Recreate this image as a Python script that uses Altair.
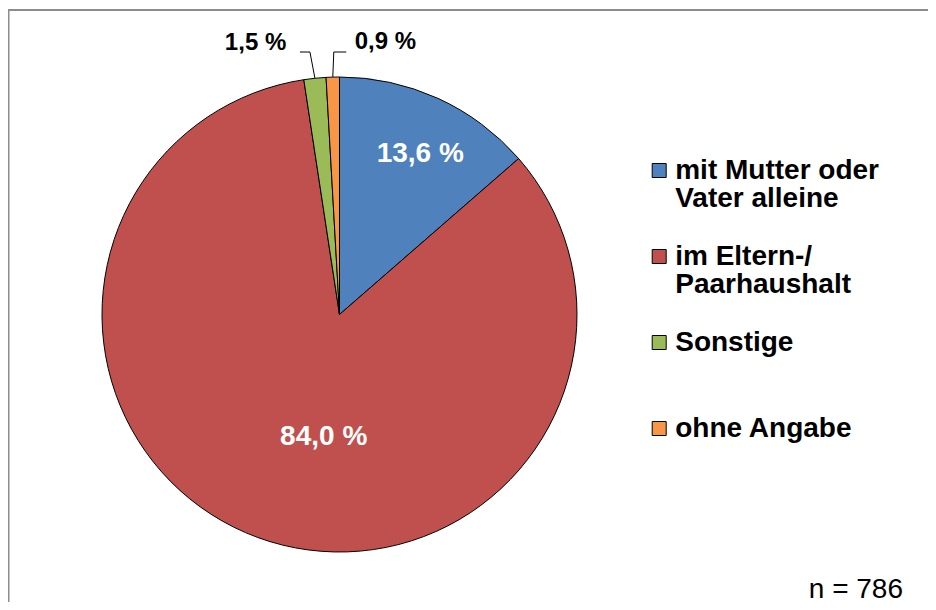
import math
import altair as alt
import pandas as pd

# ---- data ----
categories = ["mit Mutter oder|Vater alleine", "im Eltern-/|Paarhaushalt", "Sonstige", "ohne Angabe"]
values = [13.6, 84.0, 1.5, 0.9]
labels = ["13,6 %", "84,0 %", "1,5 %", "0,9 %"]
colors = ["#4F81BD", "#C0504D", "#9BBB59", "#F79646"]
n_label = ["n = 786"]

FONT = "Liberation Sans"
W = H = 500
R = 237.5

df = pd.DataFrame({"cat": categories, "value": values, "label": labels,
                   "idx": list(range(len(categories)))})

theta_scale = alt.Scale(domain=[0, 100])

legend = alt.Legend(
    title=None, orient="none", legendX=555.7, legendY=92, padding=0,
    symbolType="square", symbolSize=196,
    symbolStrokeColor="black", symbolStrokeWidth=1, symbolOpacity=1,
    labelFont=FONT, labelFontWeight="bold", labelFontSize=28, labelColor="black",
    labelLimit=400, labelOffset=2,
    labelExpr="indexof(datum.label, '|') >= 0 ? split(datum.label, '|') : [datum.label, '']",
    rowPadding=30, gridAlign="all",
)

base = alt.Chart(df)

pie = base.mark_arc(outerRadius=R, stroke="black", strokeWidth=1).encode(
    theta=alt.Theta("value:Q", stack=True, scale=theta_scale),
    color=alt.Color("cat:N", scale=alt.Scale(domain=categories, range=colors), legend=legend),
    order=alt.Order("idx:Q"),
)

mid = base.transform_window(
    cum="sum(value)", sort=[alt.SortField("idx")], frame=[None, 0]
).transform_calculate(mid="datum.cum - datum.value / 2")


def lab(i, radius, dx, dy, size, col):
    return mid.transform_filter(alt.datum.idx == i).mark_text(
        radius=radius, dx=dx, dy=dy, font=FONT, fontWeight="bold",
        fontSize=size, color=col, align="center", baseline="middle",
    ).encode(theta=alt.Theta("mid:Q", scale=theta_scale, stack=False), text="label:N")


texts = [
    lab(0, 178, 7, 1.5, 28, "white"),
    lab(1, 130, 29, 0, 28, "white"),
    lab(2, 270, -56, -3, 24, "black"),
    lab(3, 270, 53.5, -3, 24, "black"),
]

# leader lines for the two small slices, anchored at slice mid-angle on the rim
cum = 0.0
mids = []
for v in values:
    mids.append(cum + v / 2)
    cum += v
ELY = -12.5
rows = []
for i, (elbow_dx, end_dx) in {2: (-5, -15), 3: (1, 13.5)}.items():
    a = mids[i] / 100 * 2 * math.pi
    ex, ey = W / 2 + R * math.sin(a), H / 2 - R * math.cos(a)
    rows += [
        {"cat": categories[i], "k": 0, "px": ex + end_dx, "py": ELY},
        {"cat": categories[i], "k": 1, "px": ex + elbow_dx, "py": ELY},
        {"cat": categories[i], "k": 2, "px": ex, "py": ey},
    ]
leaders = alt.Chart(pd.DataFrame(rows)).mark_line(color="black", strokeWidth=1).encode(
    x=alt.X("px:Q", scale=None, axis=None),
    y=alt.Y("py:Q", scale=None, axis=None),
    detail="cat:N",
    order="k:Q",
)

one = pd.DataFrame({"a": [0]})
frame_left = alt.Chart(one).mark_rule(color="#8c8c8c", strokeWidth=2).encode(
    x=alt.value(-81), y=alt.value(-55.5), y2=alt.value(545))
frame_top = alt.Chart(one).mark_rule(color="#8c8c8c", strokeWidth=2).encode(
    y=alt.value(-54.5), x=alt.value(-82), x2=alt.value(840))

ntext = alt.Chart(pd.DataFrame({"t": n_label})).mark_text(
    align="right", baseline="alphabetic", font=FONT, fontSize=28, color="black"
).encode(x=alt.value(813.5), y=alt.value(533), text="t:N")

chart = alt.layer(frame_left, frame_top, pie, *texts, leaders, ntext).properties(
    width=W, height=H,
    autosize=alt.AutoSizeParams(type="none"),
    padding={"left": 81.5, "top": 56.5, "right": 338.5, "bottom": 37.5},
    background="white",
).configure(
    style={"guide-label": {"lineHeight": 28}},
    view={"stroke": "transparent", "strokeWidth": 0},
)

chart.save("out.html", embed_options={"renderer": "svg", "actions": False})
